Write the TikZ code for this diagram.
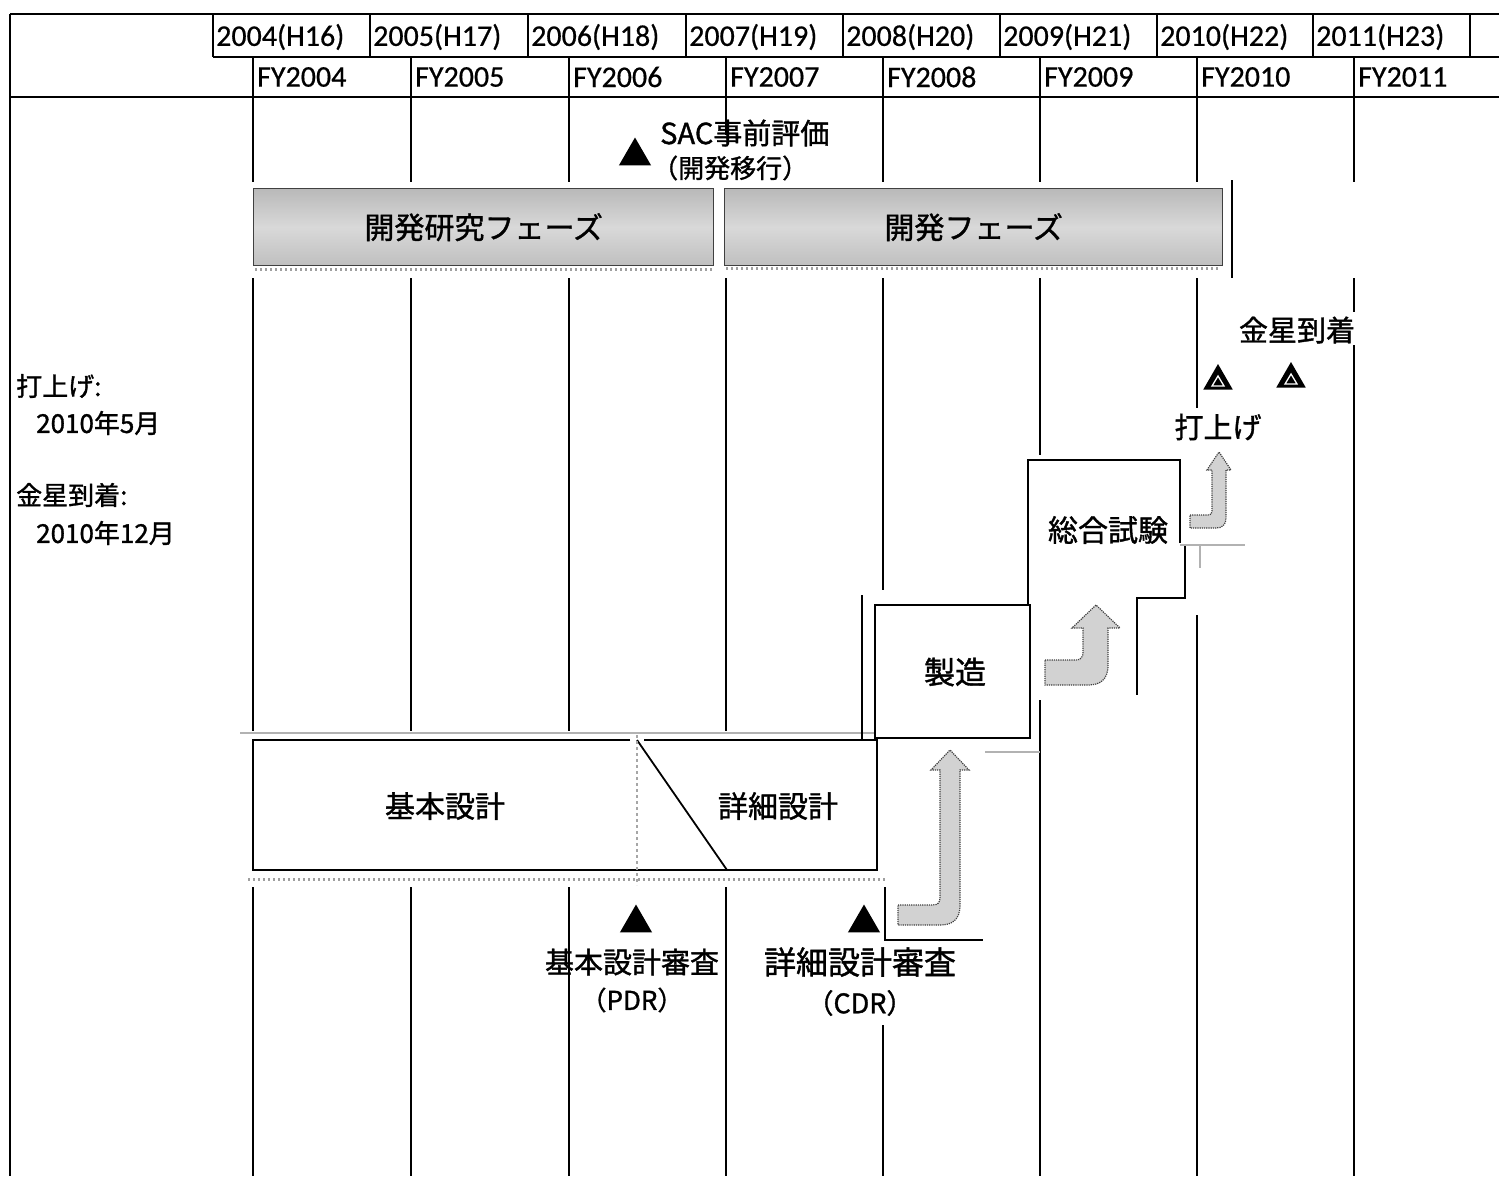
\documentclass[tikz,border=0pt]{standalone}
\usepackage{fontspec}
\setmainfont[FakeBold=0.6]{Carlito}
\newfontfamily\jp[FakeBold=1.2]{Noto Sans CJK JP}
\usetikzlibrary{shapes.geometric}
\begin{document}
\begin{tikzpicture}[x=1pt,y=-1pt,
  grid/.style={line width=1.8pt, black},
  hdr/.style={font=\fontsize{30}{34}\selectfont, anchor=west, inner sep=0pt},
  jlab/.style={font=\jp\fontsize{29}{34}\selectfont, inner sep=0pt},
  note/.style={font=\jp\fontsize{26}{30}\selectfont, inner sep=0pt, anchor=west},
  phase/.style={draw=black!75, line width=1.4pt, top color=gray!55, bottom color=gray!50, middle color=gray!30, anchor=north west, inner sep=0pt},
  boxline/.style={line width=1.8pt, black},
  shadow/.style={gray!60, line width=1.5pt},
  hatch/.style={gray!75, line width=3pt, dash pattern=on 2pt off 3pt},
  mtri/.style={regular polygon, regular polygon sides=3, minimum size=37pt, fill=black, inner sep=0pt},
  ltri/.style={regular polygon, regular polygon sides=3, minimum size=34pt, fill=black, inner sep=0pt},
  bigarrow/.style={fill=gray!35, draw=black!75, line width=1.2pt, densely dotted},
]
\useasboundingbox[fill=white] (0,0) rectangle (1499,1176);

% ---------- header ----------
\draw[grid] (10,14) -- (1499,14);
\draw[grid] (10,14) -- (10,1176);
\draw[grid] (213,57) -- (1499,57);
\draw[grid] (10,97) -- (1499,97);
\foreach \x in {213,370,528,686,843,1000,1157,1313,1470}
  \draw[grid] (\x,14) -- (\x,57);
\foreach \x in {253,411,569,726,883,1040,1197,1354}
  \draw[grid] (\x,57) -- (\x,97);

\foreach \x/\t [count=\i] in {216/2004(H16),373/2005(H17),531/2006(H18),689/2007(H19),846/2008(H20),1003/2009(H21),1160/2010(H22),1316/2011(H23)}
  \node[hdr] (cy\i) at (\x,37) {\t};
\foreach \x/\t [count=\i] in {257/FY2004,415/FY2005,573/FY2006,730/FY2007,887/FY2008,1044/FY2009,1201/FY2010,1358/FY2011}
  \node[hdr] (fy\i) at (\x,77) {\t};

% ---------- grid columns ----------
\foreach \x in {253,411,569}{
  \draw[grid] (\x,97) -- (\x,182);
  \draw[grid] (\x,278) -- (\x,731);
  \draw[grid] (\x,887) -- (\x,1176);
}
\draw[grid] (726,97) -- (726,135);
\draw[grid] (726,278) -- (726,731);
\draw[grid] (726,887) -- (726,1176);
\draw[grid] (883,97) -- (883,182);
\draw[grid] (883,278) -- (883,590);
\draw[grid] (883,1025) -- (883,1176);
\draw[grid] (1040,97) -- (1040,182);
\draw[grid] (1040,278) -- (1040,455);
\draw[grid] (1040,700) -- (1040,1176);
\draw[grid] (1197,97) -- (1197,182);
\draw[grid] (1197,278) -- (1197,408);
\draw[grid] (1197,615) -- (1197,1176);
\draw[grid] (1354,97) -- (1354,182);
\draw[grid] (1354,278) -- (1354,312);
\draw[grid] (1354,345) -- (1354,1176);
\draw[grid] (1232,180) -- (1232,278);

% ---------- SAC ----------
\node[mtri] (sactri) at (635,156) {};
\node[jlab, anchor=west] (sac) at (660,133) {SAC事前評価};
\node[jlab, anchor=west, font=\jp\fontsize{26}{30}\selectfont] (sac2) at (652,168) {（開発移行）};

% ---------- phase bars ----------
\node[phase, minimum width=460pt, minimum height=77pt] (ph1) at (253,188) {};
\node[jlab, font=\jp\fontsize{30}{34}\selectfont] at (ph1.center) {開発研究フェーズ};
\node[phase, minimum width=498pt, minimum height=77pt] (ph2) at (724,188) {};
\node[jlab, font=\jp\fontsize{30}{34}\selectfont] at (ph2.center) {開発フェーズ};
\draw[hatch] (255,269) -- (713,269);
\draw[hatch] (726,268) -- (1220,268);

% ---------- left notes ----------
\node[note] (n1) at (16,386) {打上げ:};
\node[note] (n2) at (36,423) {2010年5月};
\node[note] (n3) at (16,495) {金星到着:};
\node[note] (n4) at (36,533) {2010年12月};

% ---------- design bar ----------
\draw[shadow] (240,733) -- (877,733);
\fill[white] (253,740) rectangle (877,870);
\draw[boxline] (630,740) -- (253,740) -- (253,870) -- (877,870) -- (877,740) -- (644,740);
\draw[boxline] (637,740) -- (727,870);
\draw[gray!70, line width=1.2pt, dash pattern=on 3pt off 3pt] (637,735) -- (637,885);
\draw[hatch] (248,879) -- (885,879);
\node[jlab, font=\jp\fontsize{30}{34}\selectfont] (kihon) at (445,806) {基本設計};
\node[jlab, font=\jp\fontsize{30}{34}\selectfont] (shosai) at (778,806) {詳細設計};

% ---------- reviews ----------
\node[mtri] (pdrtri) at (636,923) {};
\node[mtri] (cdrtri) at (864,923) {};
\node[jlab] (pdr) at (632,962) {基本設計審査};
\node[jlab, font=\jp\fontsize{26}{30}\selectfont] (pdr2) at (632,1000) {（PDR）};
\node[jlab, font=\jp\fontsize{32}{36}\selectfont] (cdr) at (860,962) {詳細設計審査};
\node[jlab, font=\jp\fontsize{27}{30}\selectfont] (cdr2) at (860,1003) {（CDR）};
\draw[boxline] (885,887) -- (885,940) -- (983,940);

% ---------- manufacturing ----------
\draw[boxline] (862,595) -- (862,740) -- (877,740);
\draw[boxline, fill=white] (875,605) rectangle (1030,738);
\node[jlab, font=\jp\fontsize{31}{34}\selectfont] (seizo) at (955,672) {製造};
\draw[shadow] (985,752) -- (1040,752);

% ---------- integration test ----------
\draw[boxline] (1180,543) -- (1180,460) -- (1028,460) -- (1028,605);
\node[jlab, font=\jp\fontsize{30}{34}\selectfont] (sogo) at (1108,530) {総合試験};
\draw[boxline] (1185,545) -- (1185,598) -- (1137,598) -- (1137,695);
\draw[shadow] (1180,545) -- (1245,545);
\draw[shadow] (1200,545) -- (1200,568);

% ---------- launch / arrival ----------
\node[jlab] (arr) at (1297,330) {金星到着};
\node[jlab] (lau) at (1218,427) {打上げ};
\node[ltri] (lautri) at (1218,381) {};
\node[ltri] (arrtri) at (1291,379) {};
\foreach \c in {lautri,arrtri}{
  \draw[white, line width=1.3pt] ([yshift=5pt]\c.center) -- ++(-6pt,-10pt) -- ++(12pt,0pt) -- cycle;
}

% ---------- flow arrows ----------
\draw[bigarrow] (898,905) -- (932,905) .. controls (938,905) and (940,903) .. (940,897)
  -- (940,770) -- (931,770) -- (950,750) -- (969,770) -- (960,770) -- (960,905)
  .. controls (960,920) and (952,925) .. (940,925) -- (898,925) -- cycle;
\draw[bigarrow] (1045,660) -- (1076,660) .. controls (1081,660) and (1083,657) .. (1083,652)
  -- (1083,628) -- (1072,628) -- (1096,605) -- (1120,628) -- (1108,628) -- (1108,665)
  .. controls (1108,680) and (1100,685) .. (1088,685) -- (1045,685) -- cycle;
\draw[bigarrow] (1190,515) -- (1208,515) .. controls (1211,515) and (1212,514) .. (1212,511)
  -- (1212,470) -- (1207,470) -- (1219,452) -- (1231,470) -- (1226,470) -- (1226,518)
  .. controls (1226,525) and (1222,528) .. (1216,528) -- (1190,528) -- cycle;
\end{tikzpicture}
\end{document}
